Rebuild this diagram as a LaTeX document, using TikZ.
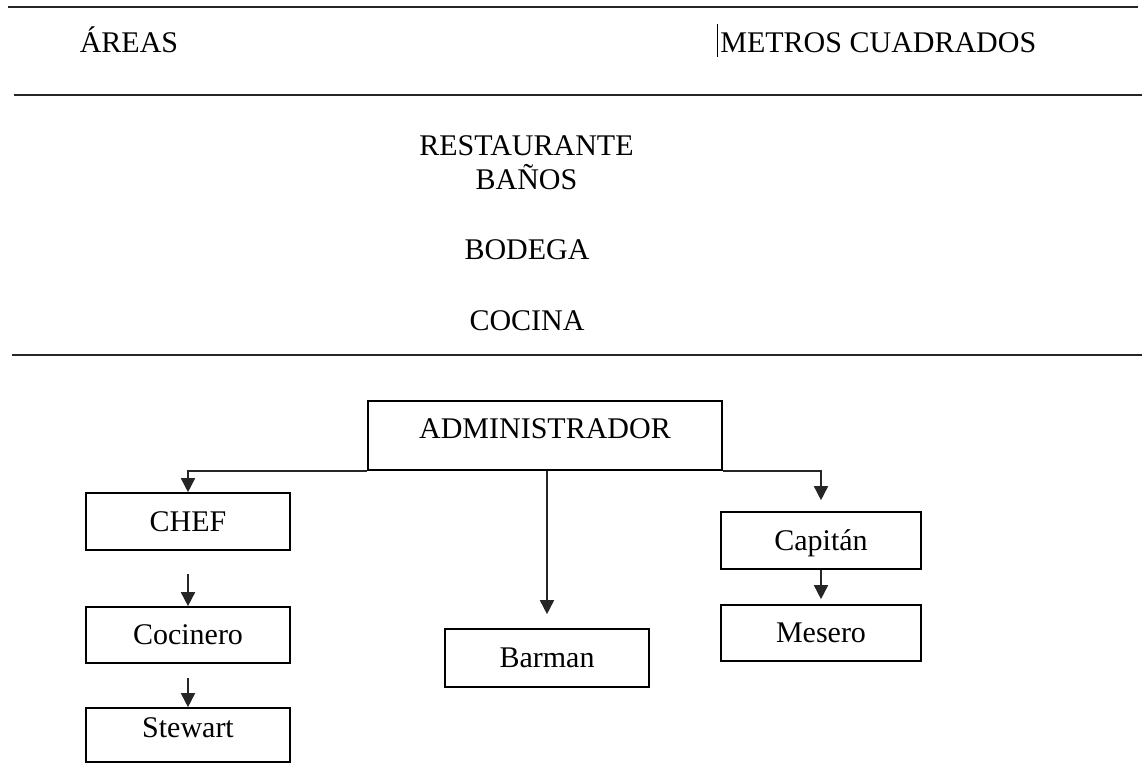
\documentclass[tikz,border=0pt]{standalone}
\usepackage{fontspec}
\setmainfont{Liberation Serif}
\usetikzlibrary{arrows.meta}

\begin{document}
\begin{tikzpicture}
[every node/.style={inner sep=0pt, font=\fontsize{15pt}{18pt}\selectfont},
 box/.style={rectangle, draw=black, line width=0.8pt, text height=10pt, text depth=0pt},
 rule/.style={line width=1pt, color=black!85},
 conn/.style={line width=0.8pt, color=black!85, -{Triangle[width=7pt, length=7pt]}}]
\useasboundingbox (0pt, 0pt) rectangle (571pt, -381.5pt);
% tabla de areas
\draw [rule] (4pt, -3.5pt) -- (569pt, -3.5pt);
\draw [rule] (7pt, -47.5pt) -- (571pt, -47.5pt);
\draw [rule] (6pt, -177.5pt) -- (571pt, -177.5pt);
\node (areas) [anchor=base] at (64.5pt, -26.25pt) {ÁREAS};
\node (metros) [anchor=base west] at (360pt, -26.25pt) {METROS CUADRADOS};
\draw [line width=0.4pt] (358.5pt, -12pt) -- (358.5pt, -28.5pt);
\node (restaurante) [anchor=base] at (263.25pt, -78pt) {RESTAURANTE};
\node (banos) [anchor=base] at (263.25pt, -95pt) {BAÑOS};
\node (bodega) [anchor=base] at (263.5pt, -130pt) {BODEGA};
\node (cocina) [anchor=base] at (263.5pt, -165.25pt) {COCINA};
% organigrama
\node (admin) [box, minimum width=177pt, minimum height=34.5pt, text depth=6.5pt] at (272.5pt, -217.75pt) {ADMINISTRADOR};
\node (chef) [box, minimum width=102pt, minimum height=28.5pt] at (94pt, -260.75pt) {CHEF};
\node (cocinero) [box, minimum width=102pt, minimum height=28pt] at (94pt, -317.5pt) {Cocinero};
\node (stewart) [box, minimum width=102pt, minimum height=27pt, text depth=7pt] at (94pt, -367.5pt) {Stewart};
\node (barman) [box, minimum width=102pt, minimum height=29pt] at (273.5pt, -329pt) {Barman};
\node (capitan) [box, minimum width=100pt, minimum height=28.5pt] at (410.5pt, -270.25pt) {Capitán};
\node (mesero) [box, minimum width=100pt, minimum height=28pt] at (410.5pt, -316.5pt) {Mesero};
\draw [conn] (admin.south west) -| (chef.north);
\draw [conn, shorten >=5.5pt] (admin.south east) -| (capitan.north);
\draw [conn, shorten >=7pt] (admin.south -| barman.north) -- (barman.north);
\draw [conn, shorten <=11.5pt] (chef) -- (cocinero);
\draw [conn, shorten <=7pt] (cocinero) -- (stewart);
\draw [conn, shorten >=2.5pt] (capitan) -- (mesero);
\end{tikzpicture}
\end{document}
